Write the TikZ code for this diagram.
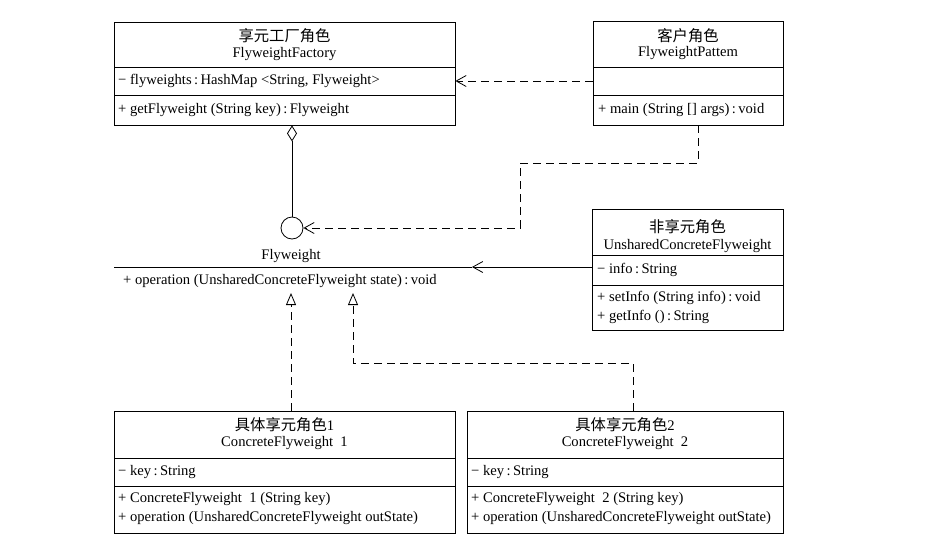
\documentclass[tikz,border=0pt]{standalone}
\usepackage{fontspec}
\setmainfont{Liberation Serif}
\newfontfamily\cjk[Scale=1.05]{Noto Sans CJK SC}
\usepackage{tikz}
\usetikzlibrary{shapes,positioning,arrows.meta,calc}

\tikzset{
	classbox/.style={draw, rectangle, line width=0.8pt, inner sep=0pt},
	txt/.style={inner sep=0pt, font=\fontsize{14.6}{16}\selectfont},
	dep/.style={dashed, dash pattern=on 8pt off 5pt, line width=0.8pt, -{Straight Barb[length=10pt,width=11pt]}},
	assoc/.style={line width=0.8pt, -{Straight Barb[length=10pt,width=11pt]}},
	real/.style={dashed, dash pattern=on 8pt off 5pt, line width=0.8pt, -{Triangle[open,length=12pt,width=10pt]}},
	aggr/.style={line width=0.8pt, {Diamond[open,length=16pt,width=10pt]}-}
}

\begin{document}
\begin{tikzpicture}[x=1pt,y=-1pt]
	\useasboundingbox (0,0) rectangle (945,542);

	% FlyweightFactory
	\node[classbox, minimum width=341pt, minimum height=103pt] (factory) at (284.5,73.5) {};
	\draw[line width=0.8pt] (114,67) -- (455,67);
	\draw[line width=0.8pt] (114,95) -- (455,95);
	\node[txt] (factoryzh) at (284.5,36) {\cjk 享元工厂角色};
	\node[txt] (factoryen) at (284.5,54) {FlyweightFactory};
	\node[txt, anchor=west] (factoryattr) at (118,81) {− flyweights\,:\,HashMap <String, Flyweight>};
	\node[txt, anchor=west] (factoryop) at (118,110) {+ getFlyweight (String key)\,:\,Flyweight};

	% FlyweightPattem
	\node[classbox, minimum width=190pt, minimum height=104pt] (client) at (688,73) {};
	\draw[line width=0.8pt] (593,67) -- (783,67);
	\draw[line width=0.8pt] (593,95) -- (783,95);
	\node[txt] (clientzh) at (688,36) {\cjk 客户角色};
	\node[txt] (clienten) at (688,53) {FlyweightPattem};
	\node[txt, anchor=west] (clientop) at (598,110) {+ main (String [] args)\,:\,void};

	% Flyweight
	\node[txt] (flyweight) at (291,256) {Flyweight};
	\coordinate (flystart) at (114,267);
	\coordinate (flyend) at (472,267);
	\draw[line width=0.8pt] (flystart) -- (flyend);
	\node[txt, anchor=west] (flyop) at (123,281) {+ operation (UnsharedConcreteFlyweight state)\,:\,void};
	\node[circle, draw, line width=0.8pt, minimum size=22pt, inner sep=0pt] (lollipop) at (292,228) {};

	% UnsharedConcreteFlyweight
	\node[classbox, minimum width=191pt, minimum height=121pt] (unshared) at (687.5,269.5) {};
	\draw[line width=0.8pt] (592,255) -- (783,255);
	\draw[line width=0.8pt] (592,285) -- (783,285);
	\node[txt] (unsharedzh) at (687.5,227) {\cjk 非享元角色};
	\node[txt] (unshareden) at (687.5,246) {UnsharedConcreteFlyweight};
	\node[txt, anchor=west] (unsharedattr) at (597,270) {− info\,:\,String};
	\node[txt, anchor=west] (unsharedop1) at (597,298) {+ setInfo (String info)\,:\,void};
	\node[txt, anchor=west] (unsharedop2) at (597,317) {+ getInfo ()\,:\,String};

	% ConcreteFlyweight 1
	\node[classbox, minimum width=341pt, minimum height=122pt] (concreteA) at (284.5,472) {};
	\draw[line width=0.8pt] (114,458) -- (455,458);
	\draw[line width=0.8pt] (114,486) -- (455,486);
	\node[txt] (concreteAzh) at (284.5,425) {\cjk 具体享元角色\rmfamily 1};
	\node[txt] (concreteAen) at (284.5,443) {ConcreteFlyweight\enspace 1};
	\node[txt, anchor=west] (concreteAattr) at (118,472) {− key\,:\,String};
	\node[txt, anchor=west] (concreteAop1) at (118,499) {+ ConcreteFlyweight\enspace 1 (String key)};
	\node[txt, anchor=west] (concreteAop2) at (118,518) {+ operation (UnsharedConcreteFlyweight outState)};

	% ConcreteFlyweight 2
	\node[classbox, minimum width=316pt, minimum height=122pt] (concreteB) at (625,472) {};
	\draw[line width=0.8pt] (467,458) -- (783,458);
	\draw[line width=0.8pt] (467,486) -- (783,486);
	\node[txt] (concreteBzh) at (625,425) {\cjk 具体享元角色\rmfamily 2};
	\node[txt] (concreteBen) at (625,443) {ConcreteFlyweight\enspace 2};
	\node[txt, anchor=west] (concreteBattr) at (471,472) {− key\,:\,String};
	\node[txt, anchor=west] (concreteBop1) at (471,499) {+ ConcreteFlyweight\enspace 2 (String key)};
	\node[txt, anchor=west] (concreteBop2) at (471,518) {+ operation (UnsharedConcreteFlyweight outState)};

	% connectors
	\coordinate (clientmid) at ([yshift=-8pt]client.west);
	\draw[dep] (clientmid) -- (clientmid -| factory.east);
	\draw[aggr] (factory.south -| lollipop) -- (lollipop.north);
	\coordinate (bend1) at (520,163);
	\draw[dep] ([xshift=10pt]client.south) |- (bend1) |- (lollipop.east);
	\draw[assoc] (unshared.west |- flyend) -- (flyend);
	\coordinate (tri1) at (291,293);
	\draw[real] (concreteA.north -| tri1) -- (tri1);
	\coordinate (tri2) at (353,293);
	\coordinate (bend2) at (633,363);
	\draw[real] (concreteB.north -| bend2) -- (bend2) -| (tri2);
\end{tikzpicture}
\end{document}
